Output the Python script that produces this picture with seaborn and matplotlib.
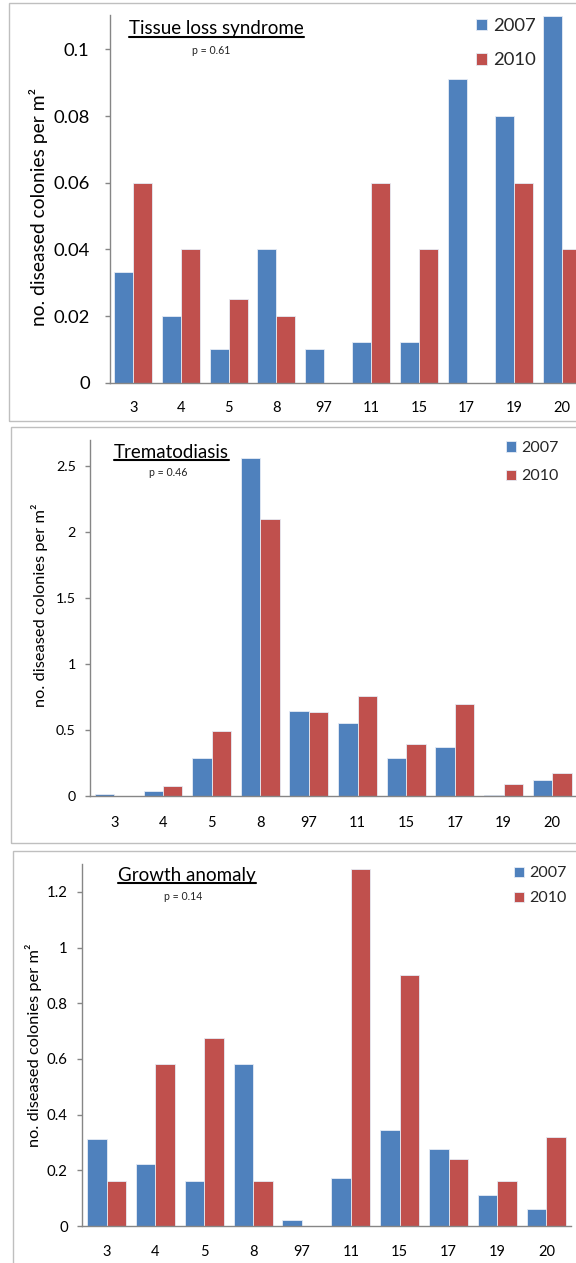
import numpy as np
import pandas as pd
import matplotlib
matplotlib.use('Agg')
import matplotlib.pyplot as plt
import seaborn as sns
from matplotlib.patches import Rectangle
from matplotlib.lines import Line2D

# ---------------- data ----------------
sites = ['3', '4', '5', '8', '97', '11', '15', '17', '19', '20']
years = ['2007', '2010']

tls_2007 = [0.0333, 0.020, 0.010, 0.040, 0.010, 0.0121, 0.0121, 0.091, 0.080, 0.110]
tls_2010 = [0.060, 0.040, 0.025, 0.020, 0.0, 0.060, 0.040, 0.0, 0.060, 0.040]

trem_2007 = [0.015, 0.040, 0.288, 2.566, 0.648, 0.557, 0.288, 0.372, 0.008, 0.121]
trem_2010 = [0.0, 0.076, 0.493, 2.103, 0.638, 0.757, 0.395, 0.696, 0.094, 0.175]

ga_2007 = [0.311, 0.221, 0.161, 0.580, 0.022, 0.173, 0.344, 0.275, 0.110, 0.060]
ga_2010 = [0.161, 0.580, 0.676, 0.161, 0.0, 1.281, 0.902, 0.240, 0.161, 0.320]

titles = ['Tissue loss syndrome', 'Trematodiasis', 'Growth anomaly']
pvals = ['p = 0.61', 'p = 0.46', 'p = 0.14']
yticks_list = [[0, 0.02, 0.04, 0.06, 0.08, 0.1],
               [0, 0.5, 1, 1.5, 2, 2.5],
               [0, 0.2, 0.4, 0.6, 0.8, 1, 1.2]]
ylims = [0.1103, 2.70, 1.30]
ylabel = 'no. diseased colonies per m\u00b2'

series = [(tls_2007, tls_2010), (trem_2007, trem_2010), (ga_2007, ga_2010)]

BLUE = '#4F81BD'
RED = '#C0504D'

# ---------------- style ----------------
sns.set_style('white')
plt.rcParams['font.family'] = ['Lato', 'DejaVu Sans']

W, H = 576, 1263
fig = plt.figure(figsize=(W / 100, H / 100), dpi=100)
fig.patch.set_facecolor('white')

def fx(x):
    return x / W

def fy(y):
    return 1 - y / H

# layout per panel (pixel coords from top-left)
layout = [
    dict(ax=(109.6, 15.0, 476.0, 382.7), ytick_fs=13.3, ytick_pad=10.5, xtick_fs=10.5, xtick_pad=13,
         ylab=(38.5, 206.5, 13.9), title=(129, 34, 13.5), underline=36.7, p=(211, 51),
         leg=(476, 24, 60, 13.3), frame=(9, 3, 421)),
    dict(ax=(90.0, 440.0, 486.5, 796.0), ytick_fs=10.3, ytick_pad=6.5, xtick_fs=10.5, xtick_pad=14.5,
         ylab=(39.5, 605.5, 11.8), title=(114, 458.3, 13.5), underline=460, p=(168, 473),
         leg=(506, 445.7, 475, 11.5), frame=(11, 427, 843)),
    dict(ax=(82.1, 864.0, 488.7, 1226.0), ytick_fs=10.8, ytick_pad=6.5, xtick_fs=10.5, xtick_pad=14,
         ylab=(34.0, 1045.5, 11.8), title=(118, 881.3, 13.5), underline=883, p=(182.7, 897),
         leg=(514, 871, 897, 11.5), frame=(12.5, 851, H + 10)),
]

axes = []
for i, L in enumerate(layout):
    x0, ytop, w, ybase = L['ax']
    # panel frame
    fx0, ftop, fbot = L['frame']
    fig.patches.append(Rectangle((fx(fx0), fy(fbot)), fx(W + 40 - fx0), (fbot - ftop) / H,
                                 transform=fig.transFigure, fill=False,
                                 edgecolor='#BFBFBF', linewidth=1.0, zorder=0))
    ax = fig.add_axes([fx(x0), fy(ybase), w / W, (ybase - ytop) / H])
    axes.append(ax)

    v07, v10 = series[i]
    df = pd.DataFrame({
        'site': sites * 2,
        'year': [years[0]] * len(sites) + [years[1]] * len(sites),
        'value': list(v07) + list(v10),
    })
    sns.barplot(data=df, x='site', y='value', hue='year', order=sites, hue_order=years,
                palette=[BLUE, RED], saturation=1, width=0.8, ax=ax,
                edgecolor='#E6ECF5', linewidth=0.6)
    ax.set_xlim(-0.5, 9.5)
    ax.set_ylim(0, ylims[i])
    ax.set_yticks(yticks_list[i])
    ax.set_yticklabels([f'{v:g}' for v in yticks_list[i]])
    ax.set_xlabel('')
    ax.set_ylabel('')
    for s in ['top', 'right']:
        ax.spines[s].set_visible(False)
    for s in ['left', 'bottom']:
        ax.spines[s].set_color('#868686')
        ax.spines[s].set_linewidth(1.0)
    ax.tick_params(axis='y', direction='out', length=3.8, width=1.0, color='#868686',
                   labelsize=L['ytick_fs'], pad=L['ytick_pad'], labelcolor='black', left=True)
    ax.tick_params(axis='x', length=0, labelsize=L['xtick_fs'], pad=L['xtick_pad'],
                   labelcolor='black')

    # y label
    lx, ly, lfs = L['ylab']
    fig.text(fx(lx), fy(ly), ylabel, rotation=90, ha='center', va='center', fontsize=lfs,
             color='black')

    # title (underlined)
    tx, tby, tfs = L['title']
    t = fig.text(fx(tx), fy(tby), titles[i], ha='left', va='baseline', fontsize=tfs,
                 color='black')
    L['title_obj'] = t

    # p value
    px, py = L['p']
    fig.text(fx(px), fy(py), pvals[i], ha='center', va='center', fontsize=7.6, color='#222222')

    # legend
    lgx, r1, r2, lgfs = L['leg']
    handles, labels = ax.get_legend_handles_labels()
    if ax.get_legend() is not None:
        ax.get_legend().remove()
    row_px = lgfs * 100 / 72
    spacing = ((r2 - r1) - 0.95 * row_px) / row_px
    ax.legend(handles, labels, loc='upper left', frameon=False,
              bbox_to_anchor=(fx(lgx), fy(r1 - 0.6 * row_px + 5)), bbox_transform=fig.transFigure,
              borderpad=0, borderaxespad=0, handlelength=0.6, handleheight=0.6,
              handletextpad=0.35, labelspacing=spacing, fontsize=lgfs)

# underline titles
fig.canvas.draw()
renderer = fig.canvas.get_renderer()
for L in layout:
    bb = L['title_obj'].get_window_extent(renderer)
    yy = fy(L['underline'])
    fig.lines.append(Line2D([bb.x0 / W, bb.x1 / W], [yy, yy], transform=fig.transFigure,
                            color='black', linewidth=1.5))

fig.savefig('out.png', dpi=100, facecolor='white')
